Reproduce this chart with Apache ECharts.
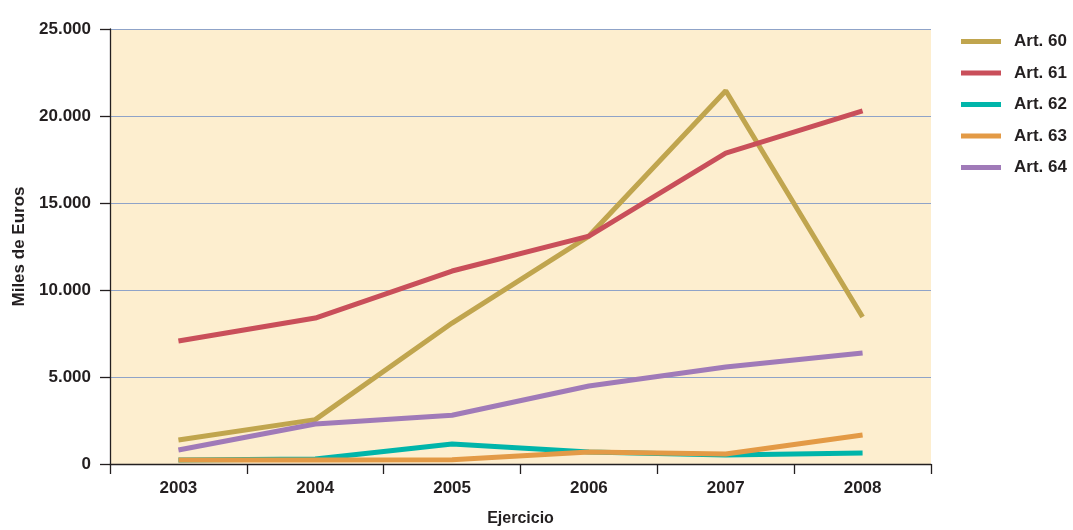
<!DOCTYPE html>
<html>
<head>
<meta charset="utf-8">
<script src="https://cdn.jsdelivr.net/npm/echarts@6/dist/echarts.min.js"></script>
<style>
  html, body { margin: 0; padding: 0; background: #fff; }
  #main { width: 1073px; height: 530px; }
</style>
</head>
<body>
<div id="main"></div>
<script>
// datos
let years = ["2003", "2004", "2005", "2006", "2007", "2008"];
let art60 = [1380, 2550, 8100, 13100, 21450, 8450];
let art61 = [7070, 8390, 11090, 13100, 17870, 20290];
let art62 = [230, 290, 1150, 690, 520, 630];
let art63 = [230, 230, 250, 690, 570, 1670];
let art64 = [800, 2300, 2800, 4480, 5570, 6380];
let yTicks = [0, 5000, 10000, 15000, 20000, 25000];

let fontName = "Liberation Sans";
let textColor = "#231f20";

let mycharts = echarts.init(document.getElementById("main"));

function serie(name, data, color) {
  return {
    name: name,
    type: "line",
    data: data,
    symbol: "none",
    lineStyle: { width: 5, color: color },
    itemStyle: { color: color },
    animation: false
  };
}

let option = {
  backgroundColor: "#ffffff",
  textStyle: { fontFamily: fontName },
  grid: {
    left: 110,
    right: 142,
    top: 29,
    bottom: 66,
    outerBoundsMode: "none",
    containLabel: false,
    show: true,
    backgroundColor: "#fdeecf",
    borderWidth: 0
  },
  legend: {
    orient: "vertical",
    left: 961,
    top: 33,
    padding: 0,
    icon: "rect",
    itemWidth: 40,
    itemHeight: 5,
    itemGap: 14.5,
    textStyle: {
      fontFamily: fontName,
      fontWeight: "bold",
      fontSize: 17,
      color: textColor,
      padding: [0, 0, 0, 8]
    },
    data: ["Art. 60", "Art. 61", "Art. 62", "Art. 63", "Art. 64"]
  },
  xAxis: {
    type: "category",
    data: years,
    boundaryGap: true,
    name: "Ejercicio",
    nameLocation: "middle",
    nameGap: 47,
    nameTextStyle: {
      fontFamily: fontName,
      fontWeight: "bold",
      fontSize: 16,
      color: textColor
    },
    axisLine: { show: true, lineStyle: { color: "#231f20", width: 1.3 } },
    axisTick: { show: true, length: 10, alignWithLabel: false, lineStyle: { color: "#231f20", width: 1.3 } },
    axisLabel: {
      margin: 16,
      fontFamily: fontName,
      fontWeight: "bold",
      fontSize: 17,
      color: textColor
    },
    splitLine: { show: false }
  },
  yAxis: {
    type: "value",
    min: 0,
    max: 25000,
    interval: 5000,
    name: "Miles de Euros",
    nameLocation: "middle",
    nameGap: 81,
    nameTextStyle: {
      fontFamily: fontName,
      fontWeight: "bold",
      fontSize: 17,
      color: textColor
    },
    axisLine: { show: true, lineStyle: { color: "#231f20", width: 1.3 } },
    axisTick: { show: true, length: 10, lineStyle: { color: "#231f20", width: 1.3 } },
    axisLabel: {
      margin: 19,
      fontFamily: fontName,
      fontWeight: "bold",
      fontSize: 17,
      color: textColor,
      formatter: function(v) {
        if (yTicks.indexOf(v) < 0) return "";
        return v === 0 ? "0" : (v / 1000).toFixed(3);
      }
    },
    splitLine: { show: true, lineStyle: { color: "#8fa3c8", width: 1.2 } }
  },
  series: [
    serie("Art. 60", art60, "#c0a54e"),
    serie("Art. 61", art61, "#c94f5a"),
    serie("Art. 62", art62, "#00b5aa"),
    serie("Art. 63", art63, "#e39a46"),
    serie("Art. 64", art64, "#a07ab8")
  ]
};
mycharts.setOption(option);
</script>
</body>
</html>
